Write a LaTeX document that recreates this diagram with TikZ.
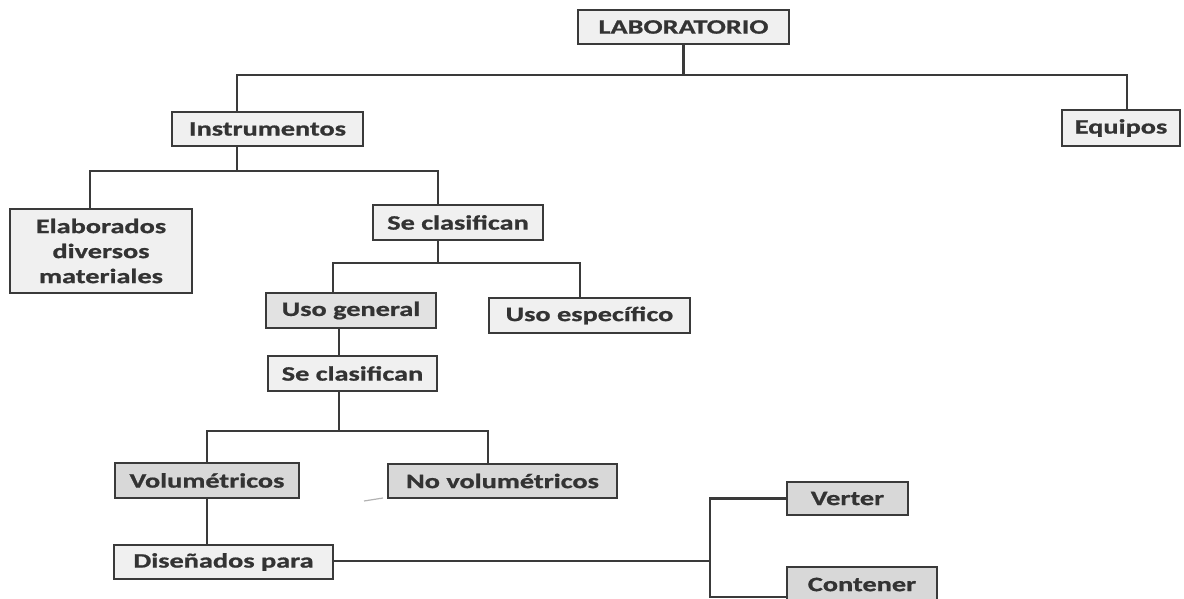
\documentclass[tikz,border=0pt]{standalone}
\usepackage{fontspec}
\setmainfont{Carlito}[BoldFeatures={FakeBold=0.8}]
\definecolor{ink}{HTML}{333333}
\definecolor{edge}{HTML}{3A3A3A}
\definecolor{paleA}{HTML}{F0F0F0}
\definecolor{paleB}{HTML}{E2E2E2}
\definecolor{paleC}{HTML}{D8D8D8}
\newcommand\wide[1]{\scalebox{1.38}[1]{#1}}
\begin{document}
\begin{tikzpicture}[x=1pt,y=-1pt,
  box/.style={draw=edge, line width=2.7pt, inner sep=0pt, text=ink,
    font=\fontsize{20.5}{25}\selectfont\bfseries, align=center},
  conn/.style={draw=edge, line width=2.7pt, line join=miter}]
\useasboundingbox (0,0) rectangle (1184,599);

% boxes
\node[box, fill=paleA, minimum width=211pt, minimum height=34pt] (lab)  at (683.5,27)  {\wide{LABORATORIO}};
\node[box, fill=paleA, minimum width=191pt, minimum height=34pt] (inst) at (267.5,129) {\wide{Instrumentos}};
\node[box, fill=paleA, minimum width=118pt, minimum height=36pt] (equ)  at (1121,128)  {\wide{Equipos}};
\node[box, fill=paleA, minimum width=182pt, minimum height=84pt] (elab) at (101,251)
  {\wide{Elaborados}\\\wide{diversos}\\\wide{materiales}};
\node[box, fill=paleA, minimum width=170pt, minimum height=35pt] (sca)  at (458,222.5) {\wide{Se clasifican}};
\node[box, fill=paleB, minimum width=170pt, minimum height=35pt] (ug)   at (351,310.5) {\wide{Uso general}};
\node[box, fill=paleA, minimum width=201pt, minimum height=35pt] (ue)   at (589.5,315.5) {\wide{Uso específico}};
\node[box, fill=paleA, minimum width=169pt, minimum height=35pt] (scb)  at (352.5,373.5) {\wide{Se clasifican}};
\node[box, fill=paleC, minimum width=184pt, minimum height=35pt] (vol)  at (207,480.5) {\wide{Volumétricos}};
\node[box, fill=paleC, minimum width=229pt, minimum height=34pt] (nvol) at (502.5,481) {\wide{No volumétricos}};
\node[box, fill=paleA, minimum width=219pt, minimum height=34pt] (dis)  at (223.5,562) {\wide{Diseñados para}};
\node[box, fill=paleC, minimum width=121pt, minimum height=33pt] (ver)  at (847.5,498.5) {\wide{Verter}};
\node[box, fill=paleC, minimum width=150pt, minimum height=35pt] (con)  at (862,584.5) {\wide{Contener}};

% LABORATORIO branches
\draw[conn] (lab.south) -- (lab.south |- 0,75);
\draw[conn] (inst.north -| 237,0) -- (237,75) -- (1127,75) -- (equ.north -| 1127,0);

% Instrumentos branches
\draw[conn] (inst.south -| 237,0) -- (237,171);
\draw[conn] (elab.north -| 90,0) -- (90,171) -- (438,171) -- (sca.north -| 438,0);

% first classification
\draw[conn] (sca.south -| 438,0) -- (438,263);
\draw[conn] (ug.north -| 333,0) -- (333,263) -- (580,263) -- (ue.north -| 580,0);

% uso general
\draw[conn] (ug.south -| 339,0) -- (scb.north -| 339,0);
\draw[conn] (scb.south -| 339,0) -- (339,431);
\draw[conn] (vol.north) -- (207,431) -- (488,431) -- (nvol.north -| 488,0);

% volumetricos
\draw[conn] (vol.south) -- (dis.north -| vol.south);
\draw[conn] (dis.east |- 0,561) -- (710,561);
\draw[conn] (ver.west) -| (710,597) -- (con.west |- 0,597);

% faint stroke below the boxes
\draw[line width=1.2pt, draw=black!30] (364,501) -- (383,498);
\end{tikzpicture}
\end{document}
